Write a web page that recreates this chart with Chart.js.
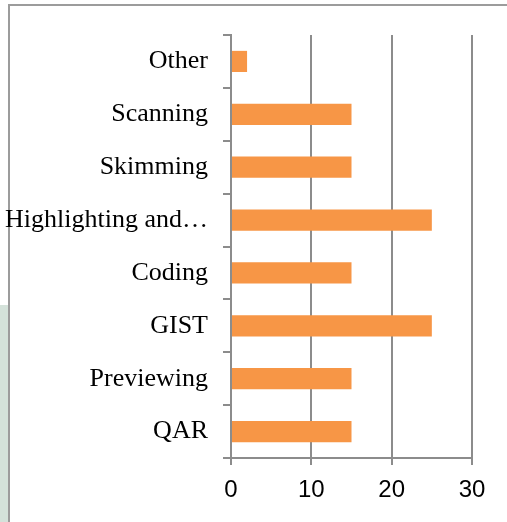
<!DOCTYPE html>
<html>
<head>
<meta charset="utf-8">
<script src="https://cdn.jsdelivr.net/npm/chart.js@4"></script>
<style>
  html, body { margin: 0; padding: 0; background: #fff; }
  .wrap { position: relative; width: 507px; height: 522px; overflow: hidden; }
  .side { position: absolute; left: 0; top: 305px; width: 8px; height: 217px; background: #d4e2da; }
  .frame { position: absolute; left: 8px; top: 4px; width: 520px; height: 540px;
           border-top: 2px solid #9c9c9c; border-left: 2px solid #9c9c9c; }
  canvas { position: absolute; left: 0; top: 0; }
</style>
</head>
<body>
<div class="wrap">
  <div class="side"></div>
  <div class="frame"></div>
  <canvas id="strategyChart" width="507" height="522"></canvas>
</div>

<script>
const strategies = ['Other', 'Scanning', 'Skimming', 'Highlighting and…', 'Coding', 'GIST', 'Previewing', 'QAR'];
const responses = [2, 15, 15, 25, 15, 25, 15, 15];
const xTicks = [0, 10, 20, 30];

const lineGray = '#8c8c8c';

document.addEventListener("DOMContentLoaded", function() {
    const ctx = document.getElementById('strategyChart').getContext('2d');

    new Chart(ctx, {
        type: 'bar',
        data: {
            labels: strategies,
            datasets: [{
                data: responses,
                backgroundColor: '#f79646',
                borderWidth: 0,
                categoryPercentage: 1,
                barPercentage: 0.4
            }]
        },
        options: {
            indexAxis: 'y',
            responsive: false,
            animation: false,
            layout: {
                padding: { left: 0, top: 35, right: 35, bottom: 0 }
            },
            scales: {
                x: {
                    min: xTicks[0],
                    max: xTicks[xTicks.length - 1],
                    afterBuildTicks: function(scale) {
                        scale.ticks = xTicks.map(v => ({ value: v }));
                    },
                    afterFit: function(scale) { scale.height = 64; },
                    grid: { color: lineGray, lineWidth: 2, tickLength: 7 },
                    border: { color: lineGray, width: 2 },
                    ticks: {
                        color: '#000',
                        padding: 11,
                        font: { family: 'Liberation Sans', size: 24 }
                    }
                },
                y: {
                    afterFit: function(scale) { scale.width = 231; },
                    grid: { drawOnChartArea: false, color: lineGray, lineWidth: 2, tickLength: 8 },
                    border: { color: lineGray, width: 2 },
                    ticks: {
                        color: '#000',
                        padding: 15,
                        autoSkip: false,
                        font: { family: 'Liberation Serif', size: 26 }
                    }
                }
            },
            plugins: {
                legend: { display: false },
                tooltip: { enabled: false }
            }
        }
    });
});
</script>
</body>
</html>
